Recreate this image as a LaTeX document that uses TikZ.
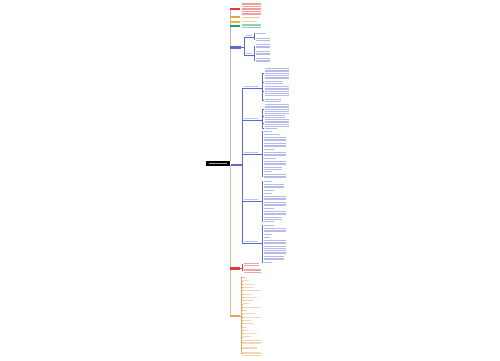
\documentclass[tikz,border=0pt]{standalone}
\definecolor{cblue}{HTML}{5A6AD0}
\definecolor{cred}{HTML}{E03A3A}
\definecolor{corange}{HTML}{E8A25A}
\definecolor{cyellow}{HTML}{E0C030}
\definecolor{cgreen}{HTML}{20A070}
\definecolor{ctrunk}{HTML}{BBBBBB}
\definecolor{ctan}{HTML}{ECB890}
\newcommand\blk[5]{\foreach \i in {1,...,#4}{\fill[#5] (#1,{#2+(\i-1)*1.7}) rectangle ++(#3,0.8);}}
\newcommand\leaf[6]{%
  \draw[#6,line width=0.3pt] (#1,{#3+(#5-1)*0.85+0.4}) -- ({#2-0.6},{#3+(#5-1)*0.85+0.4});
  \blk{#2}{#3}{#4}{#5}{#6!45}}
\tikzset{
  conn/.style={line width=0.35pt},
  branchbar/.style={inner sep=0pt, minimum height=2.8pt, minimum width=10.5pt},
}
\begin{document}
\begin{tikzpicture}[x=1pt,y=-1pt]
\useasboundingbox[fill=white] (0,0) rectangle (500,360);

% trunk
\draw[ctrunk, line width=0.8pt] (230,8) -- (230,161);
\draw[ctan, line width=0.8pt] (230,165) -- (230,316);

% root
\node[fill=black, minimum width=24pt, minimum height=5.5pt, inner sep=0pt] (root) at (218,163.3) {};
\fill[white!65!black] (209,162.8) rectangle (227,163.8);

% top small branches
\node[branchbar, fill=cred] (b1) at (235,9) {};
\blk{242}{2.5}{19}{8}{cred!50}
\node[branchbar, fill=corange, minimum height=2pt] (b2) at (235,17) {};
\blk{242}{16.5}{18}{1}{corange!60}
\node[branchbar, fill=cyellow, minimum height=2pt] (b3) at (235,21.5) {};
\blk{242}{21}{15}{1}{cyellow!60}
\node[branchbar, fill=cgreen, minimum height=2.4pt] (b4) at (235,26.2) {};
\blk{242}{23.5}{19}{3}{cgreen!50}

% blue branch
\node[branchbar, fill=cblue, minimum width=11pt] (b5) at (235.5,47.2) {};
\draw[cblue,conn] (b5.east) -- (244,47.2);
\draw[cblue,conn] (244,37) -- (244,55);
% child A
\draw[cblue,conn] (244,37) -- (254,37);
\fill[cblue!40] (246,35.2) rectangle (252,36.3);
\draw[cblue,conn] (254,33.4) -- (254,39.25);
\leaf{254}{256}{33}{10}{1}{cblue}
\leaf{254}{256}{38}{14}{2}{cblue}
% child B
\draw[cblue,conn] (244,55) -- (254,55);
\fill[cblue!40] (246,53.2) rectangle (252,54.3);
\draw[cblue,conn] (254,46.1) -- (254,60.1);
\leaf{254}{256}{44}{14}{3}{cblue}
\leaf{254}{256}{51}{14}{3}{cblue}
\leaf{254}{256}{58}{14}{3}{cblue}

% big purple-blue branch
\node[fill=cblue, inner sep=0pt, minimum width=12.5pt, minimum height=2.7pt] (b6) at (236.8,165.1) {};
\draw[cblue,conn] (242,88) -- (242,243);
\foreach \yy in {88,120,154,201,243}{
  \fill[cblue!40] (244,\yy-2.3) rectangle (258,\yy-1.1);
  \draw[cblue,conn] (242,\yy) -- (262,\yy);
}
% sub1
\draw[cblue,conn] (262,73.5) -- (262,100.25);
\leaf{262}{265}{68}{24}{7}{cblue}
\leaf{262}{265}{81}{18}{2}{cblue}
\leaf{262}{265}{86}{24}{6}{cblue}
\leaf{262}{265}{99}{16}{2}{cblue}
% sub2
\draw[cblue,conn] (262,108.65) -- (262,128.4);
\leaf{262}{265}{104}{24}{6}{cblue}
\leaf{262}{265}{115}{20}{2}{cblue}
\leaf{262}{265}{119}{24}{5}{cblue}
\leaf{262}{265}{128}{12}{1}{cblue}
% sub3
\draw[cblue,conn] (262,131.4) -- (262,176.1);
\foreach \a/\w/\n in {131/8/1,134/16/1,137/22/3,143/22/3,149/10/1,152/22/3,158/12/1,161/22/3,167/18/2,171/8/1,174/22/3}{
  \leaf{262}{264}{\a}{\w}{\n}{cblue}}
% sub4
\draw[cblue,conn] (262,181.4) -- (262,221.4);
\foreach \a/\w/\n in {181/8/1,184/20/3,190/10/1,193/8/1,196/22/3,202/22/3,208/10/1,211/22/3,217/18/2,221/10/1}{
  \leaf{262}{264}{\a}{\w}{\n}{cblue}}
% sub5
\draw[cblue,conn] (262,225.4) -- (262,262.4);
\foreach \a/\w/\n in {225/10/1,228/22/3,234/8/1,237/6/1,240/22/3,246/22/2,250/22/3,256/20/3,262/8/1}{
  \leaf{262}{264}{\a}{\w}{\n}{cblue}}

% lower red branch
\node[branchbar, fill=cred] (b7) at (235,268.4) {};
\draw[cred,conn] (b7.east) -- (242,268.4);
\draw[cred,conn] (242,264.25) -- (242,270.6);
\leaf{242}{244}{263}{15}{2}{cred}
\leaf{242}{244}{268.5}{17}{3}{cred}

% orange branch
\node[branchbar, fill=corange] (b8) at (235,315.9) {};
\draw[corange,conn] (b8.east) -- (241.5,315.9);
\draw[corange,conn] (241.5,277.4) -- (241.5,353.7);
\foreach \w [count=\k from 0] in {4,6,12,10,18,8,14,10,6,16,4,12,18,8,10,4,6,14,8}{
  \leaf{241.5}{243}{277+3.3*\k}{\w}{1}{corange}}
\leaf{241.5}{243}{340}{18}{3}{corange}
\leaf{241.5}{243}{346.5}{14}{2}{corange}
\leaf{241.5}{243}{351.5}{18}{3}{corange}
\end{tikzpicture}
\end{document}
